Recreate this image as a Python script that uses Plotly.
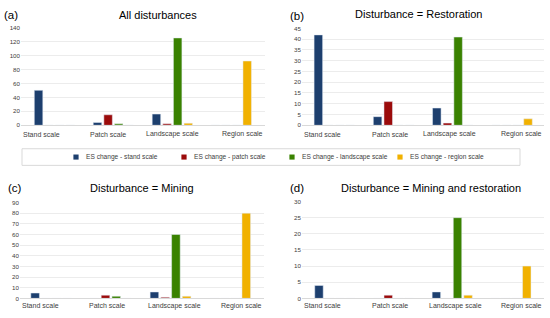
import plotly.graph_objects as go

categories = ["Stand scale", "Patch scale", "Landscape scale", "Region scale"]
series_names = ["ES change - stand scale", "ES change - patch scale",
                "ES change - landscape scale", "ES change - region scale"]
colors = ["#1d3f6e", "#9b0b0b", "#3a8200", "#f1b100"]

# values per panel: [stand, patch, landscape, region] series, each over categories
all_stand = [50, 4, 16, 0]
all_patch = [0, 15, 2, 0]
all_landscape = [0, 2, 125, 0]
all_region = [0, 0, 3, 92]

rest_stand = [42, 4, 8, 0]
rest_patch = [0, 11, 1, 0]
rest_landscape = [0, 0, 41, 0]
rest_region = [0, 0, 0, 3]

min_stand = [5, 0, 6, 0]
min_patch = [0, 3, 1, 0]
min_landscape = [0, 2, 60, 0]
min_region = [0, 0, 2, 80]

mr_stand = [4, 0, 2, 0]
mr_patch = [0, 1, 0, 0]
mr_landscape = [0, 0, 25, 0]
mr_region = [0, 0, 1, 10]

panel_titles = ["All disturbances", "Disturbance = Restoration",
                "Disturbance = Mining", "Disturbance = Mining and restoration"]
panel_letters = ["(a)", "(b)", "(c)", "(d)"]
y_max = [140, 45, 90, 30]
y_step = [20, 5, 10, 5]

panels = [
    [all_stand, all_patch, all_landscape, all_region],
    [rest_stand, rest_patch, rest_landscape, rest_region],
    [min_stand, min_patch, min_landscape, min_region],
    [mr_stand, mr_patch, mr_landscape, mr_region],
]

W, H = 550, 318
def px(x): return x / W
def py(y): return 1 - y / H

x_domains = [(21, 265), (302, 544), (20, 264), (302, 544)]
y_domains = [(124, 24), (124, 25), (301, 203), (301, 202)]
letter_pos = [(2, 11), (288, 12), (6, 188), (288, 188)]
title_pos = [(158, 11), (418, 10.5), (141.5, 188), (431, 188)]
label_y = [133, 133, 308.5, 308.5]
# category label shift (in category units) as laid out in the original
label_shift = [[-0.22, -0.085, 0.01, 0.19],
               [-0.20, -0.06, -0.06, 0.16],
               [-0.18, -0.06, 0.06, 0.19],
               [-0.21, -0.066, 0.058, 0.18]]
legend_x = [76, 184, 292, 400]
legend_y = 156.5

font_family = "Liberation Sans, Arial, sans-serif"
fig = go.Figure()
layout = dict(
    width=W, height=H, margin=dict(l=0, r=0, t=0, b=0),
    paper_bgcolor="white", plot_bgcolor="white",
    barmode="group", bargap=0.28, bargroupgap=0.2,
    font=dict(family=font_family, color="#404040"),
    showlegend=False,
)
annotations = []
shapes = [dict(type="rect", xref="paper", yref="paper",
               x0=px(22), x1=px(520), y0=py(165), y1=py(148),
               line=dict(color="#d9d9d9", width=1))]
for i, data in enumerate(panels):
    xa = "x" if i == 0 else f"x{i+1}"
    ya = "y" if i == 0 else f"y{i+1}"
    for s, vals in enumerate(data):
        fig.add_trace(go.Bar(x=categories, y=vals, marker_color=colors[s],
                             name=series_names[s], showlegend=False,
                             xaxis=xa, yaxis=ya, offsetgroup=str(s)))
    xk = "xaxis" if i == 0 else f"xaxis{i+1}"
    yk = "yaxis" if i == 0 else f"yaxis{i+1}"
    layout[xk] = dict(domain=[px(x_domains[i][0]), px(x_domains[i][1])],
                      anchor=ya, showgrid=False, showline=True,
                      linecolor="#d9d9d9", linewidth=1, ticks="",
                      showticklabels=False, fixedrange=True,
                      categoryorder="array", categoryarray=categories)
    layout[yk] = dict(domain=[py(y_domains[i][0]), py(y_domains[i][1])],
                      anchor=xa, range=[0, y_max[i]], dtick=y_step[i],
                      showgrid=True, gridcolor="#ececec", gridwidth=1,
                      zeroline=False, showline=False, ticks="",
                      tickfont=dict(size=6.2, color="#404040"), fixedrange=True)
    for c, cat in enumerate(categories):
        annotations.append(dict(text=cat, x=c + label_shift[i][c], xref=xa,
                                y=py(label_y[i]), yref="paper",
                                xanchor="center", yanchor="middle",
                                showarrow=False,
                                font=dict(size=7, color="#404040")))
    annotations.append(dict(text=panel_letters[i], x=px(letter_pos[i][0]),
                            y=py(letter_pos[i][1]), xref="paper", yref="paper",
                            xanchor="left", yanchor="middle", showarrow=False,
                            font=dict(size=11.5, color="#000000")))
    annotations.append(dict(text=panel_titles[i], x=px(title_pos[i][0]),
                            y=py(title_pos[i][1]), xref="paper", yref="paper",
                            xanchor="center", yanchor="middle", showarrow=False,
                            font=dict(size=11, color="#000000")))

# legend (key squares + text)
for s in range(4):
    shapes.append(dict(type="rect", xref="paper", yref="paper",
                       x0=px(legend_x[s] - 2.6), x1=px(legend_x[s] + 2.6),
                       y0=py(legend_y + 2.6), y1=py(legend_y - 2.6),
                       fillcolor=colors[s], line=dict(width=0)))
    annotations.append(dict(text=series_names[s], x=px(legend_x[s] + 7.5),
                            y=py(legend_y), xref="paper", yref="paper",
                            xanchor="left", yanchor="middle", showarrow=False,
                            font=dict(size=6.6, color="#404040")))

layout["annotations"] = annotations
layout["shapes"] = shapes
fig.update_layout(**layout)
fig.write_html("out.html", config={"displayModeBar": False},
               post_script="document.body.style.margin='0';")
